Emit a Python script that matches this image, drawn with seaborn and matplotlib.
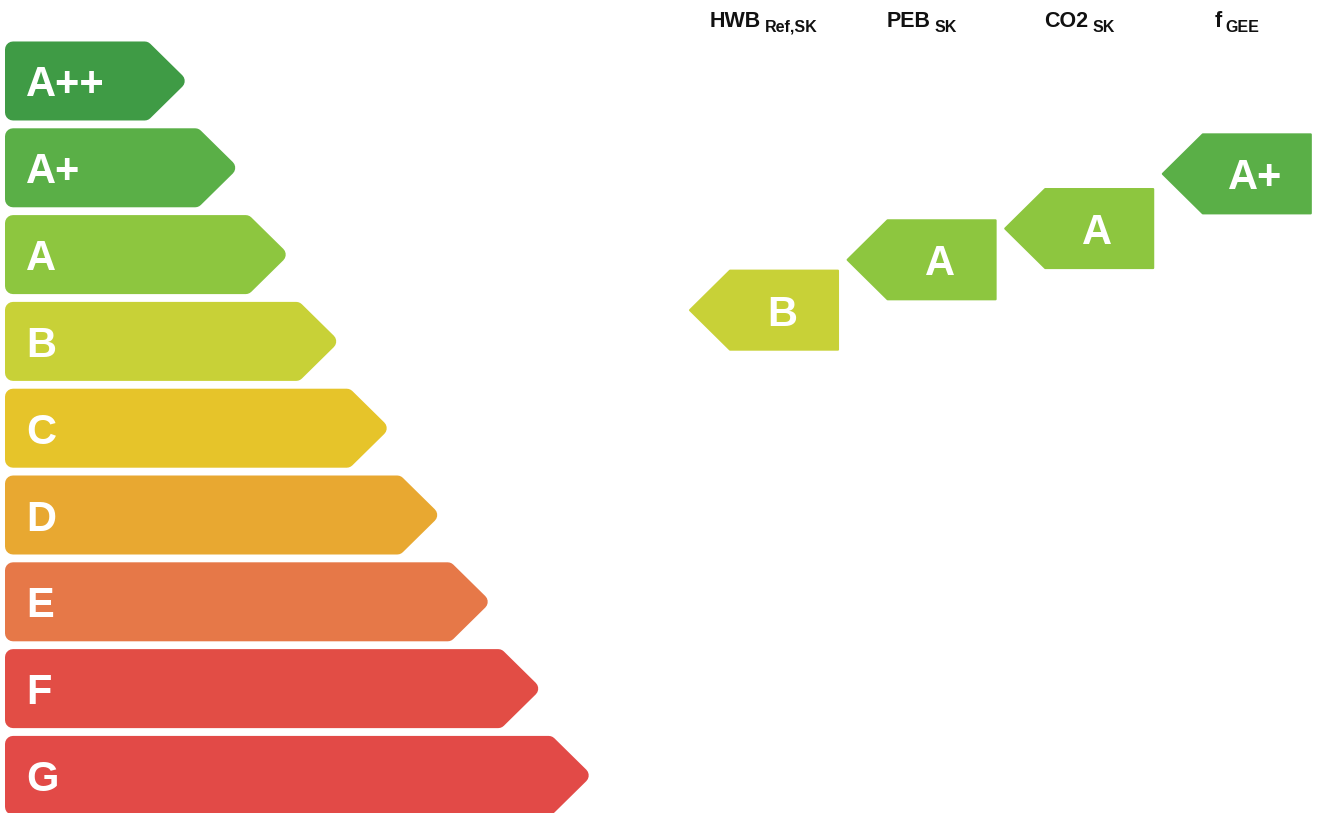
import numpy as np
import matplotlib
matplotlib.use("Agg")
import matplotlib.pyplot as plt
import seaborn as sns

# energy classes of the scale (top = best)
classes = ["A++", "A+", "A", "B", "C", "D", "E", "F", "G"]
class_colors = ["#3f9b45", "#5aaf47", "#8dc63f", "#c8d137", "#e6c42a",
                "#e8a831", "#e67848", "#e24d45", "#e24a47"]

# indicators shown on the right
indicators = ["HWB", "PEB", "CO2", "f"]
indicator_subs = ["Ref,SK", "SK", "SK", "GEE"]
indicator_ratings = ["B", "A", "A", "A+"]
indicator_scale = [2.64, 2.06, 1.70, 1.07]  # position on the class scale (0 = A++)

sns.set_theme(style="white")
plt.rcParams["font.family"] = ["Liberation Sans", "DejaVu Sans"]

fig = plt.figure(figsize=(13.32, 8.13), dpi=100)
ax = fig.add_axes([0, 0, 1, 1])
ax.set_xlim(0, 1332)
ax.set_ylim(8.433, -0.933)
ax.axis("off")

pitch = 86.8           # px per class row
hh = 79 / 2 / pitch    # half bar height in class units
r = 8                  # corner radius in px
dy = r / pitch
lw = 2 * r * 72 / 100

# left scale bars
for i, (cls, col) in enumerate(zip(classes, class_colors)):
    tip = 188 + 50.5 * i
    body = tip - 40 - 0.41 * r
    xs = [5 + r, body, tip - 1.41 * r, body, 5 + r]
    ys = [i - hh + dy, i - hh + dy, i, i + hh - dy, i + hh - dy]
    ax.fill(xs, ys, facecolor=col, edgecolor=col, linewidth=lw, joinstyle="round")
    ax.text(26, i, cls, color="white", fontsize=30, fontweight="bold",
            ha="left", va="center_baseline")

# right indicator arrows
col_centers = [764 + 157.6 * j for j in range(len(indicators))]
heads = []
for j, (name, sub, rating, val) in enumerate(zip(indicators, indicator_subs,
                                                 indicator_ratings, indicator_scale)):
    cx = col_centers[j]
    col = class_colors[classes.index(rating)]
    left, right = cx - 74, cx + 74
    xs = [left, left + 40, right, right, left + 40]
    ys = [val, val - hh, val - hh, val + hh, val + hh]
    ax.fill(xs, ys, facecolor=col, edgecolor=col, linewidth=1.5, joinstyle="round")
    ax.text((left + 40 + right) / 2 - 2, val, rating, color="white", fontsize=30,
            fontweight="bold", ha="center", va="center_baseline")

    main = ax.text(cx, -0.622, name, fontsize=15.5, fontweight="bold",
                   color="#111111", ha="left", va="baseline")
    subt = ax.annotate(sub, xy=(1, 0), xycoords=main, xytext=(3, 0),
                       textcoords="offset points", fontsize=11.5,
                       fontweight="bold", color="#111111", va="baseline")
    heads.append((cx, main, subt))

# center each header (name + subscript) over its column
fig.canvas.draw()
renderer = fig.canvas.get_renderer()
inv = ax.transData.inverted()
for cx, main, subt in heads:
    b1 = main.get_window_extent(renderer)
    b2 = subt.get_window_extent(renderer)
    x0 = inv.transform((b1.x0, 0))[0]
    x1 = inv.transform((b2.x1, 0))[0]
    main.set_x(cx - (x1 - x0) / 2)

fig.savefig("out.png", dpi=100)
